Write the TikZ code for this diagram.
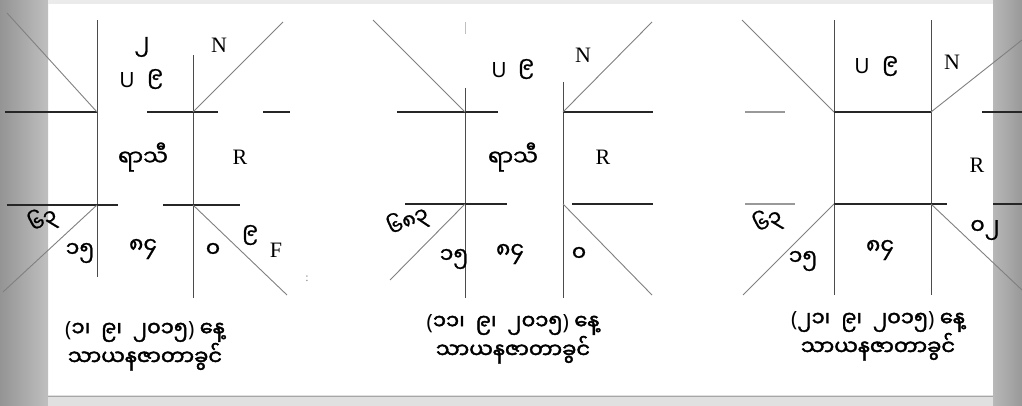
\documentclass[tikz,border=0pt]{standalone}
\usepackage{fontspec}
\setmainfont{Liberation Serif}
\newfontfamily\myan[Script=Myanmar, FakeBold=1]{Noto Sans Myanmar UI}
\newfontfamily\myanb[Script=Myanmar, FakeBold=2]{Noto Sans Myanmar UI}
\newfontfamily\sansu{Noto Sans}
\newcommand\lpar{{\sansu(}}
\newcommand\rpar{{\sansu)}}
\begin{document}
\begin{tikzpicture}[x=1pt,y=-1pt,
  hl/.style={draw=black!85, line width=1.5pt},
  vl/.style={draw=black!70, line width=0.9pt},
  dl/.style={draw=black!50, line width=0.9pt},
  lat/.style={font=\fontsize{22}{24}\selectfont, inner sep=0pt},
  usty/.style={font=\sansu\fontsize{21}{22}\selectfont, inner sep=0pt},
  mm/.style={font=\myan\fontsize{22}{24}\selectfont, inner sep=0pt},
  mmr/.style={font=\myan\fontsize{21}{22}\selectfont, inner sep=-2pt, rotate=28},
  capt/.style={font=\myanb\fontsize{21}{26}\selectfont, align=center, inner sep=0pt}
]
\useasboundingbox (0,0) rectangle (1022,406);
\fill[white] (0,0) rectangle (1022,406);
% scanned page margins
\shade[left color=black!42, right color=black!25] (0,0) rectangle (48,406);
\shade[left color=black!28, right color=black!40] (993,0) rectangle (1022,406);
\fill[black!12] (48,395) rectangle (993,406);
\draw[black!35, line width=0.8pt] (48,396) -- (993,396);
\fill[black!8] (48,0) rectangle (993,4);

% ---------------- chart 1 ----------------
\coordinate (A-v1t) at (97,20);  \coordinate (A-v1b) at (97,277);
\coordinate (A-v2t) at (193,55); \coordinate (A-v2b) at (193,298);
\coordinate (A-h1a) at (5,112);  \coordinate (A-h1b) at (97,112);
\coordinate (A-h1c) at (147,112);\coordinate (A-h1d) at (218,112);
\coordinate (A-h1e) at (263,112);\coordinate (A-h1f) at (290,112);
\coordinate (A-h2a) at (7,205);  \coordinate (A-h2b) at (118,205);
\coordinate (A-h2c) at (163,205);\coordinate (A-h2d) at (240,205);
\coordinate (A-c1) at (97,112);  \coordinate (A-d1) at (7,13);
\coordinate (A-c2) at (193,112); \coordinate (A-d2) at (283,22);
\coordinate (A-c3) at (97,205);  \coordinate (A-d3) at (3,292);
\coordinate (A-c4) at (193,205); \coordinate (A-d4) at (287,295);
\draw[vl] (A-v1t) -- (A-v1b);
\draw[vl] (A-v2t) -- (A-v2b);
\draw[hl] (A-h1a) -- (A-h1b);
\draw[hl] (A-h1c) -- (A-h1d);
\draw[hl] (A-h1e) -- (A-h1f);
\draw[hl] (A-h2a) -- (A-h2b);
\draw[hl] (A-h2c) -- (A-h2d);
\draw[dl] (A-c1) -- (A-d1);
\draw[dl] (A-c2) -- (A-d2);
\draw[dl] (A-c3) -- (A-d3);
\draw[dl] (A-c4) -- (A-d4);
\node[mm]  (A-t2) at (142,47) {၂};
\node[usty](A-tu) at (127,80) {U};
\node[mm]  (A-t9) at (155,79) {၉};
\node[lat] (A-tn) at (219,45) {N};
\node[mm]  (A-rs) at (143,157) {ရာသီ};
\node[lat] (A-tr) at (240,157) {R};
\node[mmr] (A-b63) at (43,220) {၆၃};
\node[mm]  (A-b15) at (80,253) {၁၅};
\node[mm]  (A-b84) at (143,249) {၈၄};
\node[mm]  (A-b0)  at (213,250) {၀};
\node[mm]  (A-b9)  at (250,235) {၉};
\node[lat] (A-bf)  at (276,250) {F};
\node[font=\fontsize{12}{12}\selectfont, text=black!50] (A-col) at (307,279) {:};
\node[capt] (A-cap) at (145,346) {\lpar၁၊\ \ ၉၊\ \ ၂၀၁၅\rpar{} နေ့\\သာယနဇာတာခွင်};

% ---------------- chart 2 ----------------
\coordinate (B-v1t) at (465,88);  \coordinate (B-v1b) at (465,298);
\coordinate (B-v1x) at (465,22);  \coordinate (B-v1y) at (465,34);
\coordinate (B-v2t) at (563,82);  \coordinate (B-v2b) at (563,298);
\coordinate (B-h1a) at (397,112); \coordinate (B-h1b) at (498,112);
\coordinate (B-h1c) at (563,112); \coordinate (B-h1d) at (653,112);
\coordinate (B-h2a) at (405,204); \coordinate (B-h2b) at (507,204);
\coordinate (B-h2c) at (572,204); \coordinate (B-h2d) at (653,204);
\coordinate (B-c1) at (465,112);  \coordinate (B-d1) at (373,20);
\coordinate (B-c2) at (563,112);  \coordinate (B-d2) at (652,22);
\coordinate (B-c3) at (465,204);  \coordinate (B-d3) at (390,280);
\coordinate (B-c4) at (563,204);  \coordinate (B-d4) at (652,295);
\draw[vl, black!25] (B-v1x) -- (B-v1y);
\draw[vl] (B-v1t) -- (B-v1b);
\draw[vl] (B-v2t) -- (B-v2b);
\draw[hl] (B-h1a) -- (B-h1b);
\draw[hl] (B-h1c) -- (B-h1d);
\draw[hl] (B-h2a) -- (B-h2b);
\draw[hl] (B-h2c) -- (B-h2d);
\draw[dl] (B-c1) -- (B-d1);
\draw[dl] (B-c2) -- (B-d2);
\draw[dl] (B-c3) -- (B-d3);
\draw[dl] (B-c4) -- (B-d4);
\node[usty](B-tu) at (499,70) {U};
\node[mm]  (B-t9) at (526,69) {၉};
\node[lat] (B-tn) at (583,55) {N};
\node[mm]  (B-rs) at (513,157) {ရာသီ};
\node[lat] (B-tr) at (603,157) {R};
\node[mmr, rotate=-3] (B-b683) at (408,221) {၆၈၃};
\node[mm]  (B-b15) at (454,259) {၁၅};
\node[mm]  (B-b84) at (510,254) {၈၄};
\node[mm]  (B-b0)  at (579,254) {၀};
\node[capt] (B-cap) at (513,339) {\lpar၁၁၊\ \ ၉၊\ \ ၂၀၁၅\rpar{} နေ့\\သာယနဇာတာခွင်};

% ---------------- chart 3 ----------------
\coordinate (C-v1t) at (834,20);  \coordinate (C-v1b) at (834,295);
\coordinate (C-v2t) at (931,20);  \coordinate (C-v2b) at (931,295);
\coordinate (C-h1a) at (745,112); \coordinate (C-h1b) at (785,112);
\coordinate (C-h1c) at (834,112); \coordinate (C-h1d) at (931,112);
\coordinate (C-h1e) at (982,112); \coordinate (C-h1f) at (1022,112);
\coordinate (C-h2a) at (745,204); \coordinate (C-h2b) at (795,204);
\coordinate (C-h2c) at (834,204); \coordinate (C-h2d) at (947,204);
\coordinate (C-h2e) at (993,204); \coordinate (C-h2f) at (1022,204);
\coordinate (C-c1) at (834,112);  \coordinate (C-d1) at (742,20);
\coordinate (C-c2) at (931,112);  \coordinate (C-d2) at (1022,40);
\coordinate (C-c3) at (834,204);  \coordinate (C-d3) at (743,295);
\coordinate (C-c4) at (931,204);  \coordinate (C-d4) at (1022,290);
\draw[vl] (C-v1t) -- (C-v1b);
\draw[vl] (C-v2t) -- (C-v2b);
\draw[hl, black!40] (C-h1a) -- (C-h1b);
\draw[hl] (C-h1c) -- (C-h1d);
\draw[hl] (C-h1e) -- (C-h1f);
\draw[hl, black!40] (C-h2a) -- (C-h2b);
\draw[hl] (C-h2c) -- (C-h2d);
\draw[hl] (C-h2e) -- (C-h2f);
\draw[dl] (C-c1) -- (C-d1);
\draw[dl] (C-c2) -- (C-d2);
\draw[dl] (C-c3) -- (C-d3);
\draw[dl] (C-c4) -- (C-d4);
\node[usty](C-tu) at (862,66) {U};
\node[mm]  (C-t9) at (890,66) {၉};
\node[lat] (C-tn) at (952,62) {N};
\node[lat] (C-tr) at (977,165) {R};
\node[mmr] (C-b63) at (768,221) {၆၃};
\node[mm]  (C-b15) at (803,261) {၁၅};
\node[mm]  (C-b84) at (880,250) {၈၄};
\node[mm]  (C-b02) at (985,230) {၀၂};
\node[capt] (C-cap) at (878,336) {\lpar၂၁၊\ \ ၉၊\ \ ၂၀၁၅\rpar{} နေ့\\သာယနဇာတာခွင်};
\end{tikzpicture}
\end{document}
